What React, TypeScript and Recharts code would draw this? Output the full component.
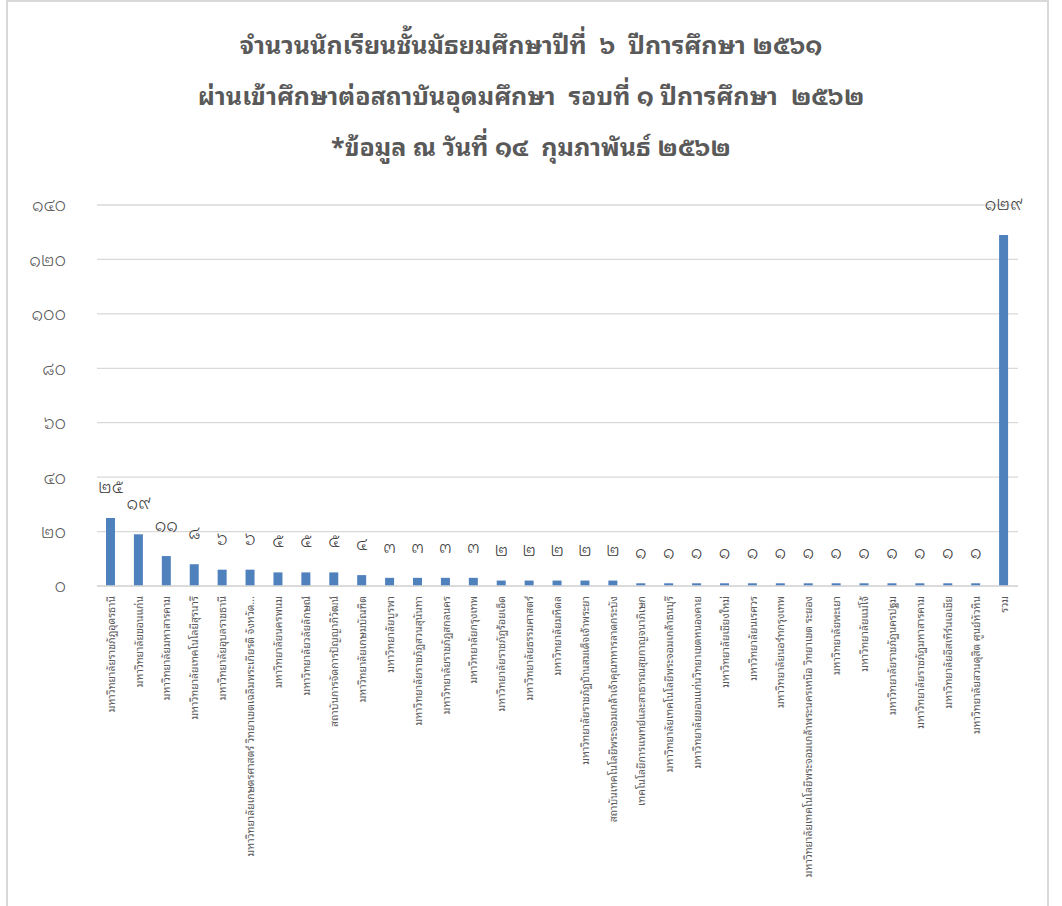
import React from "react";
import { Bar, BarChart, CartesianGrid, LabelList, XAxis, YAxis } from "recharts";

const universities = [
  "มหาวิทยาลัยราชภัฏอุดรธานี",
  "มหาวิทยาลัยขอนแก่น",
  "มหาวิทยาลัยมหาสารคาม",
  "มหาวิทยาลัยเทคโนโลยีสุรนารี",
  "มหาวิทยาลัยอุบลราชธานี",
  "มหาวิทยาลัยเกษตรศาสตร์ วิทยาเขตเฉลิมพระเกียรติ จังหวัดสกลนคร",
  "มหาวิทยาลัยนครพนม",
  "มหาวิทยาลัยวลัยลักษณ์",
  "สถาบันการจัดการปัญญาภิวัฒน์",
  "มหาวิทยาลัยเกษมบัณฑิต",
  "มหาวิทยาลัยบูรพา",
  "มหาวิทยาลัยราชภัฏสวนสุนันทา",
  "มหาวิทยาลัยราชภัฏสกลนคร",
  "มหาวิทยาลัยกรุงเทพ",
  "มหาวิทยาลัยราชภัฏร้อยเอ็ด",
  "มหาวิทยาลัยธรรมศาสตร์",
  "มหาวิทยาลัยมหิดล",
  "มหาวิทยาลัยราชภัฏบ้านสมเด็จเจ้าพระยา",
  "สถาบันเทคโนโลยีพระจอมเกล้าเจ้าคุณทหารลาดกระบัง",
  "เทคโนโลยีการแพทย์และสาธารณสุขกาญจนาภิเษก",
  "มหาวิทยาลัยเทคโนโลยีพระจอมเกล้าธนบุรี",
  "มหาวิทยาลัยขอนแก่นวิทยาเขตหนองคาย",
  "มหาวิทยาลัยเชียงใหม่",
  "มหาวิทยาลัยนเรศวร",
  "มหาวิทยาลัยนอร์ทกรุงเทพ",
  "มหาวิทยาลัยเทคโนโลยีพระจอมเกล้าพระนครเหนือ วิทยาเขต ระยอง",
  "มหาวิทยาลัยพะเยา",
  "มหาวิทยาลัยแม่โจ้",
  "มหาวิทยาลัยราชภัฏนครปฐม",
  "มหาวิทยาลัยราชภัฏมหาสารคาม",
  "มหาวิทยาลัยอีสเทิร์นเอเชีย",
  "มหาวิทยาลัยสวนดุสิต ศูนย์หัวหิน",
  "รวม",
];

const students = [
  25, 19, 11, 8, 6, 6, 5, 5, 5, 4, 3, 3, 3, 3, 2, 2, 2, 2, 2,
  1, 1, 1, 1, 1, 1, 1, 1, 1, 1, 1, 1, 1, 129,
];

const yTicks = [0, 20, 40, 60, 80, 100, 120, 140];

const titleLines = [
  "จำนวนนักเรียนชั้นมัธยมศึกษาปีที่  ๖  ปีการศึกษา ๒๕๖๑",
  "ผ่านเข้าศึกษาต่อสถาบันอุดมศึกษา  รอบที่ ๑ ปีการศึกษา  ๒๕๖๒",
  "*ข้อมูล ณ วันที่ ๑๔  กุมภาพันธ์ ๒๕๖๒",
];

const data = universities.map((name, i) => ({ name, value: students[i] }));

const FONT = "'Noto Sans Thai Looped', 'Noto Sans Thai', sans-serif";
const thaiDigits = "๐๑๒๓๔๕๖๗๘๙";
const toThai = (v: number | string) =>
  String(v).replace(/[0-9]/g, (d) => thaiDigits[Number(d)]);

const shorten = (s: string) => (s.length > 58 ? s.slice(0, 54) + "..." : s);

function CategoryTick({ x, y, payload }: any) {
  return (
    <g transform={`translate(${x},${y})`}>
      <text
        transform="rotate(-90)"
        textAnchor="end"
        dy="0.35em"
        fontSize={10.5}
        fill="#595959"
        fontFamily={FONT}
      >
        {shorten(payload.value)}
      </text>
    </g>
  );
}

export default function App() {
  return (
    <div style={{ position: "relative", width: 1062, height: 906, overflow: "hidden", background: "#fff" }}>
      <style>{`body{margin:0}`}</style>
      <div
        style={{
          position: "absolute",
          left: 6,
          top: 0,
          width: 1039,
          height: 960,
          border: "2px solid #d9d9d9",
        }}
      />
      <div
        style={{
          position: "absolute",
          left: 0,
          top: 18,
          width: 1062,
          textAlign: "center",
          fontFamily: FONT,
          fontWeight: "bold",
          fontSize: 25,
          lineHeight: "51px",
          color: "#595959",
        }}
      >
        {titleLines.map((t) => (
          <div key={t} style={{ whiteSpace: "pre" }}>{t}</div>
        ))}
      </div>
      <div style={{ position: "absolute", left: 0, top: 0 }}>
        <BarChart
          width={1062}
          height={906}
          data={data}
          margin={{ top: 205, right: 44, left: 0, bottom: 20 }}
        >
          <CartesianGrid vertical={false} stroke="#d9d9d9" strokeWidth={1.3} />
          <XAxis
            dataKey="name"
            interval={0}
            height={300}
            tickLine={false}
            tickSize={4}
            tickMargin={6}
            axisLine={{ stroke: "#d9d9d9", strokeWidth: 1.3 }}
            tick={<CategoryTick />}
          />
          <YAxis
            width={97}
            domain={[0, 140]}
            ticks={yTicks}
            tickFormatter={toThai}
            axisLine={false}
            tickLine={false}
            tickSize={6}
            tickMargin={25}
            tick={{ fontSize: 18, fill: "#595959", fontFamily: FONT, fontWeight: 300 }}
          />
          <Bar dataKey="value" fill="#4f81bd" barSize={9} isAnimationActive={false}>
            <LabelList
              dataKey="value"
              position="top"
              offset={25}
              formatter={toThai}
              fontSize={18}
              fill="#404040"
              fontFamily={FONT}
              fontWeight={300}
            />
          </Bar>
        </BarChart>
      </div>
    </div>
  );
}
